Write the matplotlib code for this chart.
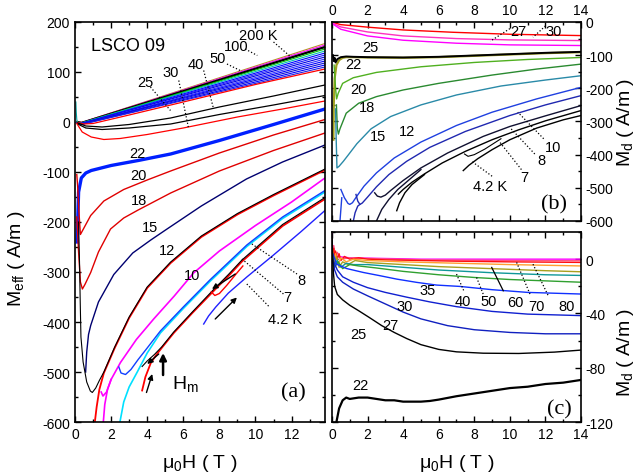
import matplotlib
matplotlib.use('Agg')
import matplotlib.pyplot as plt
from matplotlib.ticker import MultipleLocator

plt.rcParams['font.family'] = ['Liberation Sans', 'DejaVu Sans']
plt.rcParams['axes.unicode_minus'] = False
plt.rcParams['mathtext.default'] = 'regular'

# ---------------- panel (a): M_eff vs field ----------------
# dense high temperature fan (200 K ... 30 K)
a_fan_x = [0.13, 0.35, 13.85]
a_fan_y = [[1, -1, 157], [0, -1, 154], [0, -2, 150], [0, -2, 146], [-1, -2, 142],
           [-1, -3, 138], [-1, -3, 134], [-1, -3, 130], [-2, -4, 126], [-2, -4, 122],
           [-2, -4, 118], [-2, -5, 114], [-2, -5, 110]]
a_fan_colors = ['#b8902c', '#ff00ff', '#000000', '#00c800', '#00b8b8', '#0000ff', '#2020ff',
                '#0000e0', '#3030ff', '#0000ff', '#1010d0', '#0000ff', '#2020e0']
a_spike_x = [0.05, 0.07, 0.1, 0.13]
a_spike_y = [40, 20, 5, 0]

a_red_hi_x = [0.15, 0.5, 1, 3, 6, 10, 13.85]
a_red_hi_y = [-1, -4, -3, 14, 40, 75, 106]
a_blk1_x = [0.15, 0.6, 1.5, 3, 5.3, 8, 11, 13.85]
a_blk1_y = [-2, -8, -10, -5, 8, 30, 52, 74]
a_blk2_x = [0.15, 0.6, 1.5, 3, 5.3, 8, 11, 13.85]
a_blk2_y = [-4, -12, -15, -12, -4, 15, 34, 53]
a_red_lo_x = [0.1, 0.4, 0.9, 1.6, 2.5, 4, 6, 9, 11.5, 13.85]
a_red_lo_y = [-3, -20, -30, -35, -33, -25, -12, 10, 26, 42]

a_22_x = [0.12, 0.15, 0.2, 0.35, 0.6, 0.9, 2, 3.5, 5.3, 8, 11, 13.85]
a_22_y = [-240, -200, -140, -112, -102, -97, -87, -77, -64, -37, -5, 26]
a_20_x = [0.1, 0.15, 0.22, 0.3, 0.45, 0.87, 1.6, 2.7, 4, 5.3, 8, 11, 13.85]
a_20_y = [-105, -130, -180, -225, -215, -187, -158, -135, -116, -98, -62, -26, 5]
a_18_x = [0.1, 0.2, 0.3, 0.41, 0.55, 0.87, 1.3, 1.97, 2.7, 3.5, 5.3, 8, 11, 13.85]
a_18_y = [-190, -260, -320, -334, -325, -301, -260, -214, -192, -176, -142, -98, -57, -22]
a_15_x = [0.59, 0.65, 0.75, 0.87, 1.3, 2.15, 3.2, 4.2, 5.1, 7, 9.5, 11.5, 13.85]
a_15_y = [-500, -460, -425, -407, -360, -305, -262, -236, -214, -168, -114, -80, -46]
a_12b_x = [0.2, 0.25, 0.29, 0.33, 0.45, 0.65, 0.85, 0.96, 1.15, 1.35, 1.6, 2.2, 3, 4, 5.3, 7, 9, 11, 13.85]
a_12b_y = [-200, -280, -360, -430, -480, -520, -538, -541, -532, -517, -500, -450, -390, -330, -280,
           -228, -183, -145, -94]
a_12r_x = [1.1, 1.2, 1.35, 1.6, 2.2, 3, 4, 5.3, 7, 9, 11, 13.85]
a_12r_y = [-600, -570, -535, -502, -452, -392, -332, -282, -230, -185, -147, -96]
a_10_x = [1.45, 1.55, 1.75, 2.0, 2.52, 3.4, 4.36, 5.5, 6.57, 8, 10, 12, 13.85]
a_10_y = [-540, -548, -540, -515, -481, -435, -394, -348, -302, -258, -207, -160, -112]
a_10lo_x = [1.57, 1.65, 1.8, 2.0]
a_10lo_y = [-600, -565, -535, -515]
a_8_x = [2.43, 2.55, 2.8, 3.1, 3.5, 4.0, 4.73, 6, 7.5, 9.52, 11.5, 13.85]
a_8_y = [-490, -502, -505, -495, -475, -452, -418, -370, -315, -246, -190, -137]
a_8c_x = [2.49, 2.7, 3.0, 3.45, 4.0, 4.73, 6, 7.5, 9.52, 11.5, 13.85]
a_8c_y = [-600, -560, -530, -500, -462, -422, -373, -318, -249, -193, -140]
a_7b_x = [3.72, 4.0, 4.4, 4.8, 5.47, 6.5, 7.68, 8.5, 9.25, 11.5, 13.85]
a_7b_y = [-489, -478, -465, -450, -420, -380, -335, -305, -276, -205, -151]
a_7r_x = [3.72, 3.9, 4.2, 4.5, 4.8, 5.47, 6.5, 7.68, 8.5, 9.25, 11.5, 13.85]
a_7r_y = [-537, -510, -482, -466, -452, -422, -382, -338, -308, -279, -208, -154]
a_hook_x = [7.55, 7.75, 8.0, 8.4, 8.9, 9.3]
a_hook_y = [-340, -347, -343, -327, -305, -288]
a_4_x = [7.13, 7.4, 7.8, 8.5, 9.52, 11, 12.5, 13.85]
a_4_y = [-404, -388, -370, -342, -310, -266, -220, -177]

a_labels = ['200 K', '100', '50', '40', '30', '25', '22', '20', '18', '15', '12', '10', '8', '7', '4.2 K']
a_label_x = [10.15, 8.94, 7.9, 6.67, 5.29, 3.9, 3.45, 3.54, 3.54, 4.18, 5.1, 6.5, 12.56, 11.79, 11.64]
a_label_y = [174, 151, 128, 116, 100, 80, -62, -107, -157, -211, -257, -307, -317, -351, -394]
a_lead = [((11.0, 160), (11.9, 132)), ((9.43, 146), (10.1, 133)), ((8.42, 116), (9.15, 103)),
          ((7.13, 103), (7.68, 26)), ((5.75, 83), (6.3, -14)), ((4.18, 70), (5.29, 23)),
          ((9.8, -244), (12.3, -304)), ((9.25, -274), (11.55, -344)), ((9.52, -324), (10.8, -371))]
a_arrows = [((8.88, -304), (7.59, -334)), ((7.77, -394), (8.97, -351)),
            ((4.64, -464), (4.0, -484)), ((3.96, -541), (4.28, -504))]

# ---------------- panel (b): M_d, low temperatures ----------------
b_30_x = [0.02, 0.5, 2.1, 4, 6.8, 10, 14]
b_30_y = [-1, -8, -16, -24, -31, -37, -41]
b_27_x = [0.02, 0.5, 2, 4, 7, 10, 14]
b_27_y = [-3, -15, -30, -42, -50, -54, -56]
b_25_x = [0.02, 0.5, 2, 4, 7, 10, 14]
b_25_y = [-5, -22, -42, -55, -64, -69, -71]
b_22_x = [0.05, 0.1, 0.15, 0.2, 0.3, 0.5, 0.8, 1.2, 2, 4, 6, 8, 10, 12, 14]
b_22_y = [-100, -118, -108, -122, -112, -106, -104, -105, -106, -107, -105, -101, -97, -93, -90]
b_22o_x = [0.08, 0.1, 0.15, 0.25, 0.4, 0.6, 0.8, 1.2, 2, 4, 6, 8, 10, 12, 14]
b_22o_y = [-355, -250, -170, -130, -115, -108, -106, -106, -107, -108, -106, -102, -98, -94, -91]
b_20_x = [0.12, 0.2, 0.26, 0.35, 0.6, 1.2, 2.5, 5, 8, 11, 14]
b_20_y = [-130, -200, -232, -215, -185, -168, -152, -135, -122, -113, -107]
b_18_x = [0.25, 0.3, 0.36, 0.45, 0.8, 1.5, 2.5, 4, 6, 9, 11.5, 14]
b_18_y = [-250, -320, -338, -322, -275, -245, -225, -205, -185, -160, -142, -127]
b_15_x = [0.2, 0.24, 0.28, 0.4, 0.64, 0.9, 1.4, 2.2, 3.3, 5, 7, 9.5, 12, 14]
b_15_y = [-262, -360, -440, -435, -420, -402, -367, -322, -285, -250, -220, -193, -175, -162]
b_12_x = [0.5, 0.7, 0.9, 1.0, 1.15, 1.4, 1.8, 2.5, 3.5, 5, 7, 9, 11.5, 14]
b_12_y = [-505, -530, -547, -550, -545, -525, -495, -455, -410, -362, -312, -272, -232, -197]
b_12lo_x = [0.45, 0.5, 0.55]
b_12lo_y = [-600, -565, -530]
b_10_x = [1.35, 1.45, 1.57, 1.7, 2.0, 2.5, 3.2, 4.2, 5.5, 7.5, 10, 12, 14]
b_10_y = [-520, -540, -550, -546, -528, -497, -460, -420, -378, -330, -282, -250, -222]
b_10lo_x = [1.2, 1.3, 1.45, 1.57]
b_10lo_y = [-600, -575, -555, -550]
b_8_x = [2.4, 2.55, 2.75, 3.0, 3.3, 4, 5, 6.5, 8.5, 10, 12, 14]
b_8_y = [-515, -525, -528, -522, -508, -478, -440, -395, -345, -315, -283, -252]
b_8lo_x = [2.5, 2.8, 3.2, 3.7, 4.2, 5]
b_8lo_y = [-600, -565, -535, -505, -482, -445]
b_7_x = [3.73, 4.0, 4.5, 5.2, 6.2, 7.5, 9, 10.5, 12, 14]
b_7_y = [-519, -505, -483, -458, -425, -390, -355, -325, -298, -267]
b_7lo_x = [3.64, 3.8, 4.1, 4.5, 5.2]
b_7lo_y = [-569, -545, -515, -490, -460]
b_4_x = [7.38, 7.7, 8.2, 9, 10, 11.5, 13, 14]
b_4_y = [-448, -432, -412, -385, -355, -320, -295, -282]
b_4h_x = [7.45, 7.65, 8.0, 8.6, 9.5]
b_4h_y = [-398, -405, -400, -383, -352]

b_labels = ['27', '30', '25', '22', '20', '18', '15', '12', '10', '8', '7', '4.2 K']
b_label_x = [10.5, 12.44, 2.14, 1.2, 1.48, 1.95, 2.6, 4.2, 12.45, 11.79, 10.8, 8.88]
b_label_y = [-26, -26, -76, -127, -202, -257, -343, -328, -378, -415, -468, -494]
b_lead = [((10.0, -20), (8.9, -58)), ((12.0, -12), (11.3, -46)), ((11.9, -352), (10.45, -272)),
          ((11.4, -398), (10.0, -318)), ((10.65, -445), (9.4, -360)), ((9.0, -465), (7.8, -418))]

# ---------------- panel (c): M_d, higher temperatures ----------------
c_22_x = [0.25, 0.4, 0.6, 0.8, 1.0, 1.5, 2, 2.5, 3, 3.5, 4, 5, 5.5, 6, 7, 8, 9, 10, 11, 12, 13, 14]
c_22_y = [-120, -110, -104, -102, -103, -102, -102, -103, -104, -104, -105, -105, -104.5, -103.5,
          -101, -99, -97, -95, -94, -92, -91, -89]
c_25_x = [0.0, 0.03, 0.08, 0.15, 0.3, 0.6, 1.0, 1.5, 2.1, 2.8, 3.5, 4.2, 5, 6, 7, 8.5, 10.5, 12.5, 14]
c_25_y = [18, 5, -10, -20, -26, -30, -34, -38, -43, -49, -54, -58.5, -63, -66.5, -68.3, -69.3,
          -69.5, -68.5, -67]
c_27_x = [0.05, 0.15, 0.3, 0.6, 1.2, 2, 3, 4, 5, 6.5, 8, 10, 12, 14]
c_27_y = [0, -8, -13, -17, -22, -27, -33, -39, -44, -49, -52, -54, -55, -55]
c_30_x = [0.1, 0.3, 0.6, 1.2, 2, 3, 4.2, 5.5, 7, 9, 11, 14]
c_30_y = [-2, -8, -13, -17, -21, -24.5, -28, -31.5, -35, -38.5, -40.5, -41.6]
c_35_x = [0.05, 0.26, 0.82, 1.76, 2.7, 3.64, 4.76, 5.88, 7.2, 9, 11, 14]
c_35_y = [4, -3.7, -6.9, -9.8, -12.2, -14.7, -17.1, -19.1, -20.1, -22.5, -24.5, -25.7]
c_40_x = [0.0, 0.15, 0.35, 0.6, 1, 1.5, 2.5, 4, 6, 8, 10, 12, 14]
c_40_y = [5, -6, -2, -7, -4, -5, -6.5, -9, -11.5, -13.5, -15, -16, -17]
c_50_x = [0.0, 0.1, 0.3, 0.5, 0.8, 1.2, 2, 4, 6, 9, 12, 14]
c_50_y = [6, -5, -1, -6, -3, -4, -4, -6, -8, -10, -11.5, -12]
c_60_x = [0.0, 0.1, 0.25, 0.4, 0.6, 0.9, 1.3, 2, 4, 6, 9, 12, 14]
c_60_y = [8, -4, 2, -6, -2, -4, -1, -2.5, -4, -5.5, -7, -8.5, -9.3]
c_70_x = [0.0, 0.1, 0.2, 0.35, 0.5, 0.8, 1.2, 2, 4, 7, 10, 14]
c_70_y = [10, -3, 4, -4, 1, -2, 0, -1, -2, -3, -4, -5]
c_80_x = [0.0, 0.05, 0.1, 0.15, 0.2, 0.3, 0.4, 0.5, 0.7, 1, 1.5, 2, 3, 5, 7, 10, 14]
c_80_y = [12, -3, 8, -2, 6, 0, 4, -1, 2, 0, 1, 0, -0.5, -1, -1.5, -2, -2.4]
c_100_x = [0.0, 0.05, 0.1, 0.2, 0.3, 0.5, 1, 2, 5, 10, 14]
c_100_y = [16, 2, 10, 0, 5, 0, 1, 0.5, -0.5, -1, -1.2]
c_150_x = [0.0, 0.03, 0.1, 0.3, 1, 5, 14]
c_150_y = [20, 8, 4, 2, 1, 0, 0]

c_labels = ['35', '30', '27', '25', '22', '40', '50', '60', '70', '80']
c_label_x = [5.35, 4.1, 3.26, 1.48, 1.57, 7.38, 8.79, 10.29, 11.5, 13.19]
c_label_y = [-22.5, -34.3, -48.5, -55, -93, -30.6, -30.6, -31.8, -34.3, -34.3]
c_lead = [((7.0, -11), (7.4, -23)), ((8.13, -13.5), (8.5, -25.7)),
          ((10.38, -2.4), (11.13, -25.7)), ((11.3, -3.7), (12.16, -27))]
c_lead_solid = ((8.98, -6.1), (9.63, -23.3))


def style_axes(ax):
    ax.tick_params(which='both', direction='in', top=True, right=True, bottom=True, left=True,
                   labelsize=10, width=1.0)
    ax.tick_params(which='major', length=4)
    ax.tick_params(which='minor', length=2.5)
    for s in ax.spines.values():
        s.set_linewidth(1.2)


def leader(ax, p0, p1, ls=':'):
    ax.plot([p0[0], p1[0]], [p0[1], p1[1]], ls=ls, color='black', lw=0.9)


fig = plt.figure(figsize=(6.42, 4.77), dpi=100)
ax_a = fig.add_axes([0.1168, 0.1132, 0.3894, 0.8386])
ax_b = fig.add_axes([0.5171, 0.5346, 0.3879, 0.4172])
ax_c = fig.add_axes([0.5171, 0.1132, 0.3879, 0.3983])

# --- (a) ---
for yy, col in zip(a_fan_y, a_fan_colors):
    lw = 1.6 if col == '#000000' else 0.8
    ax_a.plot(a_fan_x, yy, color=col, lw=lw)
ax_a.plot(a_spike_x, a_spike_y, color='#00a0a0', lw=0.8)
ax_a.plot(a_red_hi_x, a_red_hi_y, color='red', lw=0.9)
ax_a.plot(a_blk1_x, a_blk1_y, color='black', lw=0.9)
ax_a.plot(a_blk2_x, a_blk2_y, color='black', lw=0.9)
ax_a.plot(a_red_lo_x, a_red_lo_y, color='red', lw=0.9)
ax_a.plot(a_22_x, a_22_y, color='#0020ff', lw=2.4)
ax_a.plot(a_20_x, a_20_y, color='#e00000', lw=1.0)
ax_a.plot(a_18_x, a_18_y, color='#e00000', lw=1.0)
ax_a.plot(a_15_x, a_15_y, color='#000070', lw=1.0)
ax_a.plot(a_12r_x, a_12r_y, color='red', lw=1.3)
ax_a.plot(a_12b_x, a_12b_y, color='black', lw=0.8)
ax_a.plot(a_10_x, a_10_y, color='#ff00ff', lw=1.2)
ax_a.plot(a_10lo_x, a_10lo_y, color='#ff00ff', lw=1.2)
ax_a.plot(a_8c_x, a_8c_y, color='#00e0ff', lw=1.2)
ax_a.plot(a_8_x, a_8_y, color='#1040ff', lw=1.0)
ax_a.plot(a_7r_x, a_7r_y, color='red', lw=1.3)
ax_a.plot(a_7b_x, a_7b_y, color='black', lw=0.8)
ax_a.plot(a_hook_x, a_hook_y, color='red', lw=1.0)
ax_a.plot(a_4_x, a_4_y, color='#2020ff', lw=1.0)

for t, x, y in zip(a_labels, a_label_x, a_label_y):
    ax_a.text(x, y, t, ha='center', va='center', fontsize=10.5)
for p0, p1 in a_lead:
    leader(ax_a, p0, p1)
for p0, p1 in a_arrows:
    ax_a.annotate('', xy=p1, xytext=p0,
                  arrowprops=dict(arrowstyle='-|>', color='black', lw=1.0, mutation_scale=8,
                                  shrinkA=0, shrinkB=0))
ax_a.annotate('', xy=(4.88, -462), xytext=(4.88, -506),
              arrowprops=dict(arrowstyle='-|>', color='black', lw=1.8, mutation_scale=10,
                              shrinkA=0, shrinkB=0))
ax_a.text(5.35, -522, 'H$_m$', fontsize=14, ha='left', va='center')
ax_a.text(0.87, 152, 'LSCO 09', fontsize=13, ha='left', va='center')
ax_a.text(12.1, -540, '(a)', fontsize=16, ha='center', va='center', family='Liberation Serif')

ax_a.set_xlim(0, 13.85)
ax_a.set_ylim(-600, 200)
ax_a.xaxis.set_major_locator(MultipleLocator(2))
ax_a.xaxis.set_minor_locator(MultipleLocator(1))
ax_a.yaxis.set_major_locator(MultipleLocator(100))
ax_a.yaxis.set_minor_locator(MultipleLocator(50))
style_axes(ax_a)
ax_a.set_xlabel('μ$_0$H ( T )', fontsize=14)
ax_a.xaxis.set_label_coords(0.5, -0.075)
ax_a.set_ylabel('M$_{eff}$ ( A/m )', fontsize=14)
ax_a.yaxis.set_label_coords(-0.19, 0.41)

# --- (b) ---
ax_b.plot(b_30_x, b_30_y, color='red', lw=1.0)
ax_b.plot(b_27_x, b_27_y, color='#ff30c0', lw=1.0)
ax_b.plot(b_25_x, b_25_y, color='#ff00ff', lw=1.0)
ax_b.plot(b_22o_x, b_22o_y, color='#a0a020', lw=1.6)
ax_b.plot(b_22_x, b_22_y, color='black', lw=1.4)
ax_b.plot(b_20_x, b_20_y, color='#50b020', lw=1.0)
ax_b.plot(b_18_x, b_18_y, color='#2a8a30', lw=1.0)
ax_b.plot(b_15_x, b_15_y, color='#2a8aa8', lw=1.0)
ax_b.plot(b_12_x, b_12_y, color='#1f40e0', lw=1.0)
ax_b.plot(b_12lo_x, b_12lo_y, color='#1f40e0', lw=1.0)
ax_b.plot(b_10_x, b_10_y, color='#2028b0', lw=1.0)
ax_b.plot(b_10lo_x, b_10lo_y, color='#2028b0', lw=1.0)
ax_b.plot(b_8_x, b_8_y, color='#101030', lw=1.0)
ax_b.plot(b_8lo_x, b_8lo_y, color='#101030', lw=1.0)
ax_b.plot(b_7_x, b_7_y, color='black', lw=1.0)
ax_b.plot(b_7lo_x, b_7lo_y, color='black', lw=1.0)
ax_b.plot(b_4_x, b_4_y, color='black', lw=1.0)
ax_b.plot(b_4h_x, b_4h_y, color='black', lw=0.8)
for t, x, y in zip(b_labels, b_label_x, b_label_y):
    ax_b.text(x, y, t, ha='center', va='center', fontsize=10.5)
for p0, p1 in b_lead:
    leader(ax_b, p0, p1)
ax_b.text(12.48, -549, '(b)', fontsize=16, ha='center', va='center', family='Liberation Serif')

ax_b.set_xlim(0, 14)
ax_b.set_ylim(-600, 0)
ax_b.xaxis.set_major_locator(MultipleLocator(2))
ax_b.xaxis.set_minor_locator(MultipleLocator(1))
ax_b.yaxis.set_major_locator(MultipleLocator(100))
ax_b.yaxis.set_minor_locator(MultipleLocator(50))
style_axes(ax_b)
ax_b.tick_params(labelbottom=False, labeltop=True, labelleft=False, labelright=True)
ax_b.yaxis.set_label_position('right')
ax_b.set_ylabel('M$_d$ ( A/m )', fontsize=14)
ax_b.yaxis.set_label_coords(1.135, 0.5)

# --- (c) ---
for xx, yy, col in [(c_150_x, c_150_y, '#ff00ff'), (c_100_x, c_100_y, '#ff5080'),
                    (c_80_x, c_80_y, '#ff1010'), (c_70_x, c_70_y, '#ffa030'),
                    (c_60_x, c_60_y, '#a8a020'), (c_50_x, c_50_y, '#109898'),
                    (c_40_x, c_40_y, '#30a030')]:
    ax_c.plot(xx, yy, color=col, lw=1.0)
ax_c.plot(c_35_x, c_35_y, color='#1030ff', lw=1.0)
ax_c.plot(c_30_x, c_30_y, color='#1020d0', lw=1.0)
ax_c.plot(c_27_x, c_27_y, color='#1020c0', lw=1.0)
ax_c.plot(c_25_x, c_25_y, color='black', lw=1.0)
ax_c.plot(c_22_x, c_22_y, color='black', lw=1.6)
for t, x, y in zip(c_labels, c_label_x, c_label_y):
    ax_c.text(x, y, t, ha='center', va='center', fontsize=10.5)
for p0, p1 in c_lead:
    leader(ax_c, p0, p1)
leader(ax_c, c_lead_solid[0], c_lead_solid[1], ls='-')
ax_c.text(12.76, -110, '(c)', fontsize=16, ha='center', va='center', family='Liberation Serif')

ax_c.set_xlim(0, 14)
ax_c.set_ylim(-120, 20)
ax_c.xaxis.set_major_locator(MultipleLocator(2))
ax_c.xaxis.set_minor_locator(MultipleLocator(1))
ax_c.yaxis.set_major_locator(MultipleLocator(40))
ax_c.yaxis.set_minor_locator(MultipleLocator(20))
style_axes(ax_c)
ax_c.tick_params(labelleft=False, labelright=True)
ax_c.set_yticks([0, -40, -80, -120])
ax_c.yaxis.set_label_position('right')
ax_c.set_ylabel('M$_d$ ( A/m )', fontsize=14)
ax_c.yaxis.set_label_coords(1.135, 0.37)
ax_c.set_xlabel('μ$_0$H ( T )', fontsize=14)
ax_c.xaxis.set_label_coords(0.5, -0.16)

fig.savefig('out.png', dpi=100)
